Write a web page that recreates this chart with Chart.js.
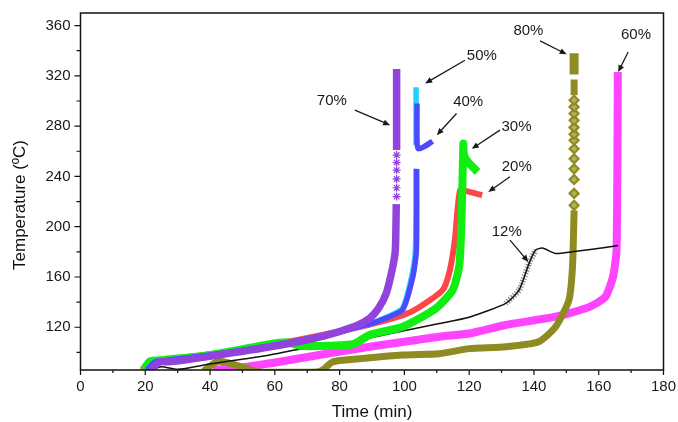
<!DOCTYPE html>
<html>
<head>
<meta charset="utf-8">
<script src="https://cdn.jsdelivr.net/npm/chart.js@4.4.0/dist/chart.umd.min.js"></script>
<style>
  html, body { margin: 0; padding: 0; background: #fff; }
</style>
</head>
<body>
<canvas id="chart" width="678" height="422"></canvas>
<script>
// ─── AXES ─────────────────────────────────────────────────────
const xTicks = [0, 20, 40, 60, 80, 100, 120, 140, 160, 180];
const xMinor = [10, 30, 50, 70, 90, 110, 130, 150, 170];
const yTicks = [120, 160, 200, 240, 280, 320, 360];
const yMinor = [100, 140, 180, 220, 260, 300, 340];

// ─── SERIES (time in min, temperature in °C; null = break) ────
const t12 = [22, 25, 30, 40, 51, 58.5, 67.5, 84, 99.5, 110.8, 120, 131.3, 135.4, 138.5, 140.5, 142.6, 146.7, 151.8, 158, 166];
const T12 = [86, 88.5, 86.5, 90.8, 95, 98, 102.5, 108.5, 117, 123, 128, 139, 149.6, 170.8, 181.4, 183, 178.7, 180, 182, 185];
const t12m = [131.3, 135.4, 138.5, 140.5];
const T12m = [139, 149.6, 170.8, 181.4];

const t20 = [19, 21.5, 26, 40, 60, 75, 89, 100, 104.6, 111.8, 114, 115.6, 117.2, 120, 124];
const T20 = [86, 93, 94, 98.5, 106.5, 114, 122, 130, 136, 149.6, 165, 190, 229, 227.7, 225];

const t30 = [19.5, 21.5, 26, 40, 58.5, 64, 67.5, 72, 84.1, 89.4, 99.5, 109.7, 114.9, 117, 117.8, 118.2, 118.4, 119.8, 122.6];
const T30 = [86, 93, 94, 98, 106.5, 108, 105.5, 105, 106.5, 114, 120.4, 135, 149.6, 170, 221, 266, 257, 251, 243.6];

const t40 = [20.5, 23, 26, 40, 60, 75, 89, 95, 99.5, 102.6, 103.7, 103.8, 103.9, 103.9, 103.9, 104.3, 106, 108.7];
const T40 = [86, 92.5, 93.5, 98, 106, 113.5, 122.5, 128, 134, 160, 181, 246, null, 298, 268, 262, 263.5, 268];

const t50 = [20.5, 23, 26, 40, 60, 75, 89, 95, 99.5, 102.2, 103.4, 103.6, 103.6, 103.6, 103.6];
const T50 = [86, 92.5, 93.5, 98, 106, 113.5, 122.5, 128.5, 135.5, 160, 181, 246, null, 265, 311];

const t60 = [41, 51.3, 61.5, 75, 89.2, 100, 110.8, 120, 131.3, 146.7, 157, 162, 164.4, 165.5, 165.9];
const T60 = [86, 88.6, 92.6, 98.5, 104.5, 108.5, 112.5, 115, 121.8, 128.4, 136, 144, 160, 181.4, 323];

const t70 = [21.5, 24.5, 27, 40, 60, 75, 85, 89.2, 92, 94.4, 96.4, 97.2, 97.5, 97.6, 97.6, 97.6];
const T70 = [86, 92.5, 92.5, 97, 105, 113, 121, 127, 135, 147, 168, 181, 218, null, 261, 325.5];
const t70s = [97.6, 97.6, 97.6, 97.6, 97.6, 97.6];
const T70s = [224, 231, 238, 245, 251, 257];

const t80 = [38, 40, 42.5, 46, 51, 55, 73, 75, 77.5, 80, 99.5, 110.8, 120, 131.3, 141.5, 146.7, 150.8, 151.9, 152.4, 152.4, 152.4, 152.4];
const T80 = [85, 89, 93, 91.5, 87.5, 84.5, 84.5, 86.5, 92, 93.5, 98, 99, 103, 104.5, 108.5, 120.4, 141.6, 168, 213, null, 304.6, 317];
const t80top = [152.4, 152.4];
const T80top = [321, 338];
const t80d = [152.4, 152.4, 152.4, 152.4, 152.4, 152.4, 152.4, 152.4, 152.4, 152.4, 152.4, 152.4, 152.4];
const T80d = [217, 226.5, 237.6, 246, 254, 262, 268.8, 273.6, 279, 284.7, 290, 295.3, 300.6];

// ─── LABELS + ARROWS ──────────────────────────────────────────
const annText  = ['70%', '50%', '40%', '30%', '20%', '12%', '80%', '60%'];
const annTx    = [77.6, 123.9, 119.7, 134.6, 134.7, 131.6, 138.3, 171.5];
const annTy    = [299.8, 335.6, 299.3, 279.2, 247.6, 196, 355.7, 353];
const arrFromX = [84.7, 118.7, 116.1, 129.5, 132.6, 132.6, 141.9, 169.1];
const arrFromY = [292.7, 332.4, 290, 276.8, 239.7, 189.3, 347.8, 339];
const arrToX   = [95.6, 106.4, 110, 120.8, 125.9, 138.3, 150.1, 166];
const arrToY   = [280.8, 314, 272.8, 262, 227.7, 172, 337.2, 323];

const FONT = '"Liberation Sans", Arial, sans-serif';

// ─── HELPERS ──────────────────────────────────────────────────
function pts(xs, ys) {
  return xs.map((x, i) => ({ x, y: ys[i] }));
}

function band(label, xs, ys, color, width, order) {
  return {
    label, data: pts(xs, ys),
    borderColor: color, backgroundColor: color,
    borderWidth: width, pointRadius: 0,
    tension: 0.2, fill: false, clip: 0, order,
    borderJoinStyle: 'round'
  };
}

function markers(label, xs, ys, style, color, fillColor, radius, bw, order) {
  return {
    label, data: pts(xs, ys), showLine: false,
    pointStyle: style, pointRadius: radius,
    borderColor: color, pointBorderColor: color,
    pointBackgroundColor: fillColor, pointBorderWidth: bw,
    clip: 0, order
  };
}

function noPad(s) {
  s.paddingTop = 0; s.paddingBottom = 0; s.paddingLeft = 0; s.paddingRight = 0;
}

// ─── PLUGINS ──────────────────────────────────────────────────
const annotations = {
  id: 'annotations',
  afterDatasetsDraw(chart) {
    const { ctx, scales: { x, y } } = chart;
    ctx.save();
    ctx.strokeStyle = '#1a1a1a';
    ctx.fillStyle = '#1a1a1a';
    ctx.lineWidth = 1.3;
    annText.forEach((txt, i) => {
      const x1 = x.getPixelForValue(arrFromX[i]), y1 = y.getPixelForValue(arrFromY[i]);
      const x2 = x.getPixelForValue(arrToX[i]),   y2 = y.getPixelForValue(arrToY[i]);
      const ang = Math.atan2(y2 - y1, x2 - x1);
      const hl = 7, hw = 3;
      ctx.beginPath();
      ctx.moveTo(x1, y1);
      ctx.lineTo(x2 - Math.cos(ang) * hl * 0.8, y2 - Math.sin(ang) * hl * 0.8);
      ctx.stroke();
      ctx.beginPath();
      ctx.moveTo(x2, y2);
      ctx.lineTo(x2 - Math.cos(ang) * hl - Math.sin(ang) * hw, y2 - Math.sin(ang) * hl + Math.cos(ang) * hw);
      ctx.lineTo(x2 - Math.cos(ang) * hl + Math.sin(ang) * hw, y2 - Math.sin(ang) * hl - Math.cos(ang) * hw);
      ctx.closePath();
      ctx.fill();

      ctx.font = '15px ' + FONT;
      ctx.textAlign = 'center';
      ctx.textBaseline = 'middle';
      ctx.fillText(txt, x.getPixelForValue(annTx[i]), y.getPixelForValue(annTy[i]));
    });
    ctx.restore();
  }
};

const frameAndTicks = {
  id: 'frameAndTicks',
  afterDraw(chart) {
    const { ctx, chartArea: a, scales: { x, y } } = chart;
    ctx.save();
    ctx.strokeStyle = '#111';
    ctx.lineWidth = 1.5;
    ctx.strokeRect(a.left, a.top, a.right - a.left, a.bottom - a.top);

    ctx.lineWidth = 1.2;
    ctx.beginPath();
    xTicks.forEach(v => { const p = x.getPixelForValue(v); ctx.moveTo(p, a.bottom); ctx.lineTo(p, a.bottom + 5); });
    xMinor.forEach(v => { const p = x.getPixelForValue(v); ctx.moveTo(p, a.bottom); ctx.lineTo(p, a.bottom + 3); });
    yTicks.forEach(v => { const p = y.getPixelForValue(v); ctx.moveTo(a.left, p); ctx.lineTo(a.left - 6, p); });
    yMinor.forEach(v => { const p = y.getPixelForValue(v); ctx.moveTo(a.left, p); ctx.lineTo(a.left - 4, p); });
    ctx.stroke();

    // axis titles
    ctx.fillStyle = '#111';
    ctx.font = '17px ' + FONT;
    ctx.textAlign = 'center';
    ctx.textBaseline = 'middle';
    ctx.fillText('Time (min)', (a.left + a.right) / 2, 412);
    ctx.translate(20, 205);
    ctx.rotate(-Math.PI / 2);
    ctx.fillText('Temperature (ºC)', 0, 0);
    ctx.restore();
  }
};

// ─── CHART ────────────────────────────────────────────────────
const PURPLE  = '#9143dc';
const BLUE    = '#4a4aff';
const CYAN    = '#22d0ff';
const GREEN   = '#12ee12';
const RED     = '#ff4646';
const MAGENTA = '#ff44ff';
const OLIVE   = '#8e8b22';

new Chart(document.getElementById('chart'), {
  type: 'line',
  data: {
    datasets: [
      band('70%', t70, T70, PURPLE, 7.5, 1),
      markers('70% sparse', t70s, T70s, 'star', PURPLE, 'rgba(0,0,0,0)', 4, 1.2, 1),
      band('40%', t40, T40, BLUE, 5.5, 2),
      band('50%', t50, T50, CYAN, 5.5, 3),
      band('30%', t30, T30, GREEN, 8, 4),
      band('12%', t12, T12, '#111', 1.5, 5),
      {
        label: '12% marks', data: pts(t12m, T12m),
        borderColor: '#888', borderWidth: 6, borderDash: [1.2, 1.6],
        pointRadius: 0, tension: 0.2, clip: 0, order: 5
      },
      band('20%', t20, T20, RED, 6, 6),
      band('80%', t80, T80, OLIVE, 7, 7),
      band('80% top', t80top, T80top, OLIVE, 9, 7),
      markers('80% sparse', t80d, T80d, 'rectRot', OLIVE, '#b3b060', 4.5, 2.2, 7),
      band('60%', t60, T60, MAGENTA, 8, 8)
    ]
  },
  options: {
    responsive: false,
    animation: false,
    devicePixelRatio: 1,
    layout: { padding: { top: 13, right: 14.5, left: 0, bottom: 0 } },
    plugins: { legend: { display: false }, tooltip: { enabled: false } },
    scales: {
      x: {
        type: 'linear', min: 0, max: 180,
        grid: { display: false, drawTicks: false },
        border: { display: false },
        ticks: { font: { size: 15, family: FONT }, color: '#1a1a1a', padding: 8, maxRotation: 0, autoSkip: false },
        afterBuildTicks: s => { s.ticks = xTicks.map(v => ({ value: v })); },
        afterFit: s => { s.height = 52; noPad(s); }
      },
      y: {
        type: 'linear', min: 86, max: 370,
        grid: { display: false, drawTicks: false },
        border: { display: false },
        ticks: { font: { size: 15, family: FONT }, color: '#1a1a1a', padding: 10, autoSkip: false },
        afterBuildTicks: s => { s.ticks = yTicks.map(v => ({ value: v })); },
        afterFit: s => { s.width = 80.5; noPad(s); }
      }
    }
  },
  plugins: [annotations, frameAndTicks]
});
</script>
</body>
</html>
